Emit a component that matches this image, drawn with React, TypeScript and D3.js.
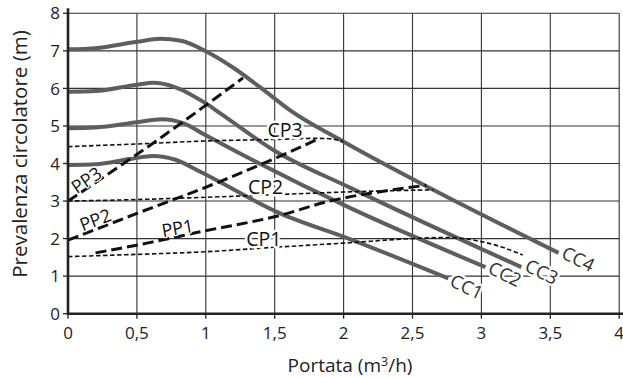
import React from "react";
import * as d3 from "d3";

type P = [number, number];

const xTicks = [0, 0.5, 1, 1.5, 2, 2.5, 3, 3.5, 4];
const xTickLabels = ["0", "0,5", "1", "1,5", "2", "2,5", "3", "3,5", "4"];
const yTicks = [0, 1, 2, 3, 4, 5, 6, 7, 8];

// Pump curves (CC)
const cc1: P[] = [[0, 3.96], [0.2, 3.98], [0.45, 4.12], [0.62, 4.2], [0.78, 4.1], [0.96, 3.78], [1.54, 2.67], [2.05, 1.98], [2.76, 0.94]];
const cc2: P[] = [[0, 4.94], [0.2, 4.96], [0.5, 5.1], [0.68, 5.18], [0.84, 5.07], [1.0, 4.75], [1.2, 4.36], [2.05, 2.81], [3.03, 1.24]];
const cc3: P[] = [[0, 5.91], [0.2, 5.93], [0.5, 6.1], [0.62, 6.15], [0.78, 6.03], [1.0, 5.6], [1.1, 5.35], [1.49, 4.36], [2.05, 3.35], [2.99, 1.74], [3.29, 1.24]];
const cc4: P[] = [[0, 7.04], [0.2, 7.07], [0.5, 7.24], [0.67, 7.32], [0.82, 7.27], [1.0, 6.99], [1.2, 6.55], [1.44, 5.9], [1.61, 5.42], [2.0, 4.58], [2.65, 3.3], [3.56, 1.62]];

// Proportional pressure (PP)
const pp1: P[] = [[0.2, 1.62], [0.6, 1.9], [0.96, 2.18], [1.54, 2.62], [1.9, 3.0], [2.3, 3.27], [2.6, 3.42]];
const pp2: P[] = [[0, 1.96], [0.5, 2.67], [1.09, 3.5], [1.56, 4.23], [1.82, 4.66]];
const pp3: P[] = [[0, 3.0], [0.64, 4.6], [1.27, 6.28]];

// Constant pressure (CP)
const cp1: P[] = [[0, 1.52], [0.5, 1.58], [1.0, 1.65], [1.5, 1.77], [2.0, 1.88], [2.5, 2.0], [2.75, 2.03], [3.0, 1.92], [3.16, 1.76], [3.3, 1.56]];
const cp2: P[] = [[0, 3.0], [0.5, 3.04], [1.0, 3.1], [1.5, 3.17], [2.0, 3.24], [2.65, 3.3]];
const cp3: P[] = [[0, 4.45], [0.5, 4.52], [1.0, 4.6], [1.5, 4.64], [1.82, 4.67], [1.9, 4.66], [2.0, 4.58]];

const ccSeries = [cc1, cc2, cc3, cc4];
const ppSeries = [pp1, pp2, pp3];
const cpSeries = [cp1, cp2, cp3];

const labelNames = ["CP3", "CP2", "CP1", "PP3", "PP2", "PP1", "CC1", "CC2", "CC3", "CC4"];
const labelAt: P[] = [[1.575, 4.89], [1.433, 3.374], [1.421, 1.984], [0.133, 3.56], [0.198, 2.5], [0.795, 2.28], [2.893, 0.719], [3.171, 1.057], [3.438, 1.118], [3.703, 1.457]];
const labelAngle = [0, 0, 0, -34, -21, -10, 26, 26, 26, 26];

export default function App() {
  const W = 623, H = 378;
  const x = d3.scaleLinear().domain([0, 4]).range([68, 619.2]);
  const y = d3.scaleLinear().domain([0, 8]).range([313.7, 13.3]);
  const line = d3.line<P>().x(d => x(d[0])).y(d => y(d[1])).curve(d3.curveMonotoneX);
  const font = "'Open Sans', sans-serif";

  return (
    <svg width={W} height={H} style={{ position: "absolute", left: 0, top: 0, background: "#fff" }} fontFamily={font}>
      {/* grid */}
      {xTicks.slice(1).map(t => (
        <line key={"gx" + t} x1={x(t)} x2={x(t)} y1={y(8)} y2={y(0)} stroke="#333" strokeWidth={1.1} />
      ))}
      {yTicks.slice(1).map(t => (
        <line key={"gy" + t} x1={x(0)} x2={x(4)} y1={y(t)} y2={y(t)} stroke="#333" strokeWidth={1.1} />
      ))}
      {/* ticks */}
      {xTicks.map(t => (
        <line key={"tx" + t} x1={x(t)} x2={x(t)} y1={y(0)} y2={y(0) + 5} stroke="#222" strokeWidth={1.3} />
      ))}
      {yTicks.map(t => (
        <line key={"ty" + t} x1={x(0) - 5} x2={x(0)} y1={y(t)} y2={y(t)} stroke="#222" strokeWidth={1.3} />
      ))}

      {/* tick labels */}
      {xTicks.map((t, i) => (
        <text key={"lx" + t} x={x(t)} y={339} textAnchor="middle" fontSize={17} fill="#222">{xTickLabels[i]}</text>
      ))}
      {yTicks.map(t => (
        <text key={"ly" + t} x={60} y={y(t)} dy="0.36em" textAnchor="end" fontSize={17} fill="#222">{t}</text>
      ))}

      {/* axis titles */}
      <text x={350} y={372} textAnchor="middle" fontSize={19} fill="#222">
        Portata (m<tspan fontSize={12.5} dy={-6}>3</tspan><tspan dy={6}>/h)</tspan>
      </text>
      <text transform={`translate(27,154) rotate(-90)`} textAnchor="middle" fontSize={20.5} fill="#222">Prevalenza circolatore (m)</text>

      {/* pump curves */}
      {ccSeries.map((s, i) => (
        <path key={"cc" + i} d={line(s) || ""} fill="none" stroke="#5e5e5e" strokeWidth={4} />
      ))}
      {cpSeries.map((s, i) => (
        <path key={"cp" + i} d={line(s) || ""} fill="none" stroke="#111" strokeWidth={1.6} strokeDasharray="4.5,2.5" />
      ))}
      {ppSeries.map((s, i) => (
        <path key={"pp" + i} d={line(s) || ""} fill="none" stroke="#111" strokeWidth={3} strokeDasharray="11,5" />
      ))}

      {/* labels */}
      {labelNames.map((n, i) => {
        const isPP = n.startsWith("PP");
        const isCC = n.startsWith("CC");
        return (
          <text
            key={n}
            transform={`translate(${x(labelAt[i][0])},${y(labelAt[i][1])}) rotate(${labelAngle[i]})`}
            textAnchor="middle"
            dy="0.36em"
            fontSize={isCC ? 18.5 : isPP ? 18 : 19.5}
            fill={isCC ? "#333" : "#111"}
            stroke="#fff"
            strokeWidth={isPP ? 2.5 : 5}
            paintOrder="stroke"
            strokeLinejoin="round"
          >{n}</text>
        );
      })}

      {/* axes on top */}
      <line x1={x(0)} x2={x(0)} y1={y(8) - 5} y2={y(0) + 1} stroke="#222" strokeWidth={2.6} />
      <line x1={x(0) - 1} x2={W} y1={y(0)} y2={y(0)} stroke="#222" strokeWidth={2.6} />
    </svg>
  );
}
